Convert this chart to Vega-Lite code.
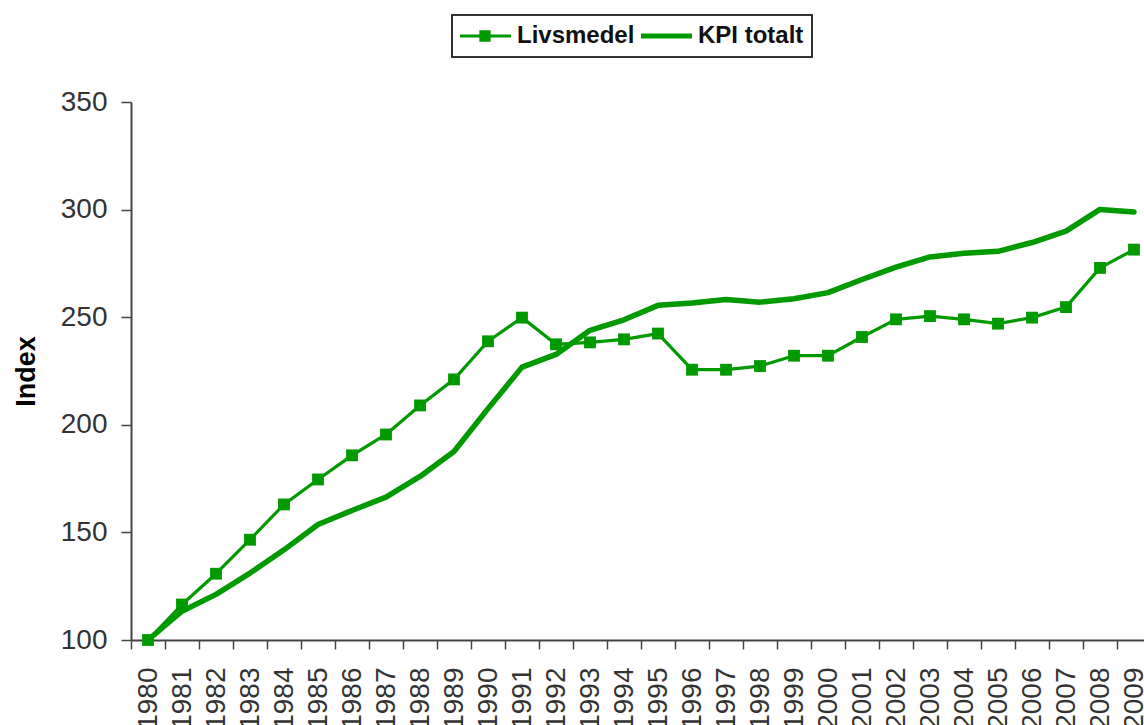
{
  "$schema": "https://vega.github.io/schema/vega-lite/v6.json",
  "autosize": {"type": "none"},
  "padding": {"left": 131, "top": 102, "right": 0, "bottom": 85},
  "width": 1020,
  "height": 538,
  "background": "white",
  "config": {
    "view": {"stroke": null},
    "font": "Liberation Sans"
  },
  "data": {
    "values": [
      {"year": "1980", "serie": "Livsmedel", "value": 100.0},
      {"year": "1981", "serie": "Livsmedel", "value": 116.5},
      {"year": "1982", "serie": "Livsmedel", "value": 130.8},
      {"year": "1983", "serie": "Livsmedel", "value": 146.6},
      {"year": "1984", "serie": "Livsmedel", "value": 163.0},
      {"year": "1985", "serie": "Livsmedel", "value": 174.6},
      {"year": "1986", "serie": "Livsmedel", "value": 185.8},
      {"year": "1987", "serie": "Livsmedel", "value": 195.5},
      {"year": "1988", "serie": "Livsmedel", "value": 209.0},
      {"year": "1989", "serie": "Livsmedel", "value": 221.1},
      {"year": "1990", "serie": "Livsmedel", "value": 238.8},
      {"year": "1991", "serie": "Livsmedel", "value": 249.8},
      {"year": "1992", "serie": "Livsmedel", "value": 237.4},
      {"year": "1993", "serie": "Livsmedel", "value": 238.3},
      {"year": "1994", "serie": "Livsmedel", "value": 239.7},
      {"year": "1995", "serie": "Livsmedel", "value": 242.4},
      {"year": "1996", "serie": "Livsmedel", "value": 225.6},
      {"year": "1997", "serie": "Livsmedel", "value": 225.6},
      {"year": "1998", "serie": "Livsmedel", "value": 227.3},
      {"year": "1999", "serie": "Livsmedel", "value": 232.1},
      {"year": "2000", "serie": "Livsmedel", "value": 232.1},
      {"year": "2001", "serie": "Livsmedel", "value": 240.8},
      {"year": "2002", "serie": "Livsmedel", "value": 249.0},
      {"year": "2003", "serie": "Livsmedel", "value": 250.5},
      {"year": "2004", "serie": "Livsmedel", "value": 249.0},
      {"year": "2005", "serie": "Livsmedel", "value": 247.0},
      {"year": "2006", "serie": "Livsmedel", "value": 249.8},
      {"year": "2007", "serie": "Livsmedel", "value": 254.7},
      {"year": "2008", "serie": "Livsmedel", "value": 272.9},
      {"year": "2009", "serie": "Livsmedel", "value": 281.4},
      {"year": "1980", "serie": "KPI totalt", "value": 100.0},
      {"year": "1981", "serie": "KPI totalt", "value": 113.4},
      {"year": "1982", "serie": "KPI totalt", "value": 121.2},
      {"year": "1983", "serie": "KPI totalt", "value": 131.1},
      {"year": "1984", "serie": "KPI totalt", "value": 141.9},
      {"year": "1985", "serie": "KPI totalt", "value": 153.7},
      {"year": "1986", "serie": "KPI totalt", "value": 160.2},
      {"year": "1987", "serie": "KPI totalt", "value": 166.4},
      {"year": "1988", "serie": "KPI totalt", "value": 176.0},
      {"year": "1989", "serie": "KPI totalt", "value": 187.6},
      {"year": "1990", "serie": "KPI totalt", "value": 207.5},
      {"year": "1991", "serie": "KPI totalt", "value": 226.8},
      {"year": "1992", "serie": "KPI totalt", "value": 232.7},
      {"year": "1993", "serie": "KPI totalt", "value": 243.9},
      {"year": "1994", "serie": "KPI totalt", "value": 248.8},
      {"year": "1995", "serie": "KPI totalt", "value": 255.5},
      {"year": "1996", "serie": "KPI totalt", "value": 256.6},
      {"year": "1997", "serie": "KPI totalt", "value": 258.2},
      {"year": "1998", "serie": "KPI totalt", "value": 257.0},
      {"year": "1999", "serie": "KPI totalt", "value": 258.6},
      {"year": "2000", "serie": "KPI totalt", "value": 261.4},
      {"year": "2001", "serie": "KPI totalt", "value": 267.5},
      {"year": "2002", "serie": "KPI totalt", "value": 273.3},
      {"year": "2003", "serie": "KPI totalt", "value": 278.0},
      {"year": "2004", "serie": "KPI totalt", "value": 279.7},
      {"year": "2005", "serie": "KPI totalt", "value": 280.6},
      {"year": "2006", "serie": "KPI totalt", "value": 284.7},
      {"year": "2007", "serie": "KPI totalt", "value": 290.0},
      {"year": "2008", "serie": "KPI totalt", "value": 300.1},
      {"year": "2009", "serie": "KPI totalt", "value": 298.9}
    ]
  },
  "encoding": {
    "x": {
      "field": "year",
      "type": "ordinal",
      "scale": {"type": "band", "paddingInner": 0, "paddingOuter": 0},
      "axis": {
        "title": null,
        "tickBand": "extent",
        "labelAngle": -90,
        "labelFontSize": 28,
        "labelColor": "#333333",
        "labelPadding": 18,
        "labelOverlap": false,
        "tickSize": 9,
        "tickColor": "#444444",
        "tickWidth": 1.5,
        "domainColor": "#444444",
        "domainWidth": 2,
        "grid": false
      }
    },
    "y": {
      "field": "value",
      "type": "quantitative",
      "scale": {"domain": [100, 350], "nice": false, "zero": false},
      "axis": {
        "title": "Index",
        "titleFontSize": 27,
        "titleFontWeight": "bold",
        "titleColor": "#000000",
        "titlePadding": 20,
        "values": [100, 150, 200, 250, 300, 350],
        "labelFontSize": 28,
        "labelColor": "#333333",
        "labelPadding": 14,
        "tickSize": 10,
        "tickColor": "#444444",
        "tickWidth": 1.5,
        "domainColor": "#444444",
        "domainWidth": 2,
        "grid": false
      }
    }
  },
  "layer": [
    {
      "transform": [{"filter": "datum.serie === 'KPI totalt'"}],
      "mark": {"type": "line", "strokeWidth": 5.5, "strokeJoin": "round", "strokeCap": "round"},
      "encoding": {
        "color": {
          "field": "serie",
          "type": "nominal",
          "scale": {"domain": ["Livsmedel", "KPI totalt"], "range": ["#009a00", "#009a00"]},
          "legend": {
            "title": null,
            "orient": "none",
            "direction": "horizontal",
            "legendX": 321,
            "legendY": -87,
            "padding": 8,
            "strokeColor": "#333333",
            "labelFont": "Liberation Sans",
            "labelFontSize": 24,
            "labelFontWeight": "bold",
            "labelColor": "#111111",
            "labelOffset": 20,
            "symbolOffset": 13,
            "columnPadding": 6,
            "symbolSize": 2704,
            "symbolType": "stroke",
            "clipHeight": 26,
            "encode": {
              "legend": {
                "update": {
                  "stroke": {"value": "#333333"},
                  "strokeWidth": {"value": 2}
                }
              },
              "symbols": {
                "update": {
                  "shape": {"signal": "datum.value === 'Livsmedel' ? 'M-1,0H1M-0.16,-0.16H0.16V0.16H-0.16Z' : 'stroke'"},
                  "fill": {"signal": "datum.value === 'Livsmedel' ? '#009a00' : 'transparent'"},
                  "stroke": {"value": "#009a00"},
                  "strokeWidth": {"signal": "datum.value === 'Livsmedel' ? 3 : 5"},
                  "opacity": {"value": 1}
                }
              }
            }
          }
        }
      }
    },
    {
      "transform": [{"filter": "datum.serie === 'Livsmedel'"}],
      "mark": {"type": "line", "strokeWidth": 3.2, "strokeJoin": "round"},
      "encoding": {
        "color": {"field": "serie", "type": "nominal"}
      }
    },
    {
      "transform": [{"filter": "datum.serie === 'Livsmedel'"}],
      "mark": {"type": "point", "shape": "square", "filled": true, "size": 140, "opacity": 1, "color": "#009a00"}
    }
  ]
}
